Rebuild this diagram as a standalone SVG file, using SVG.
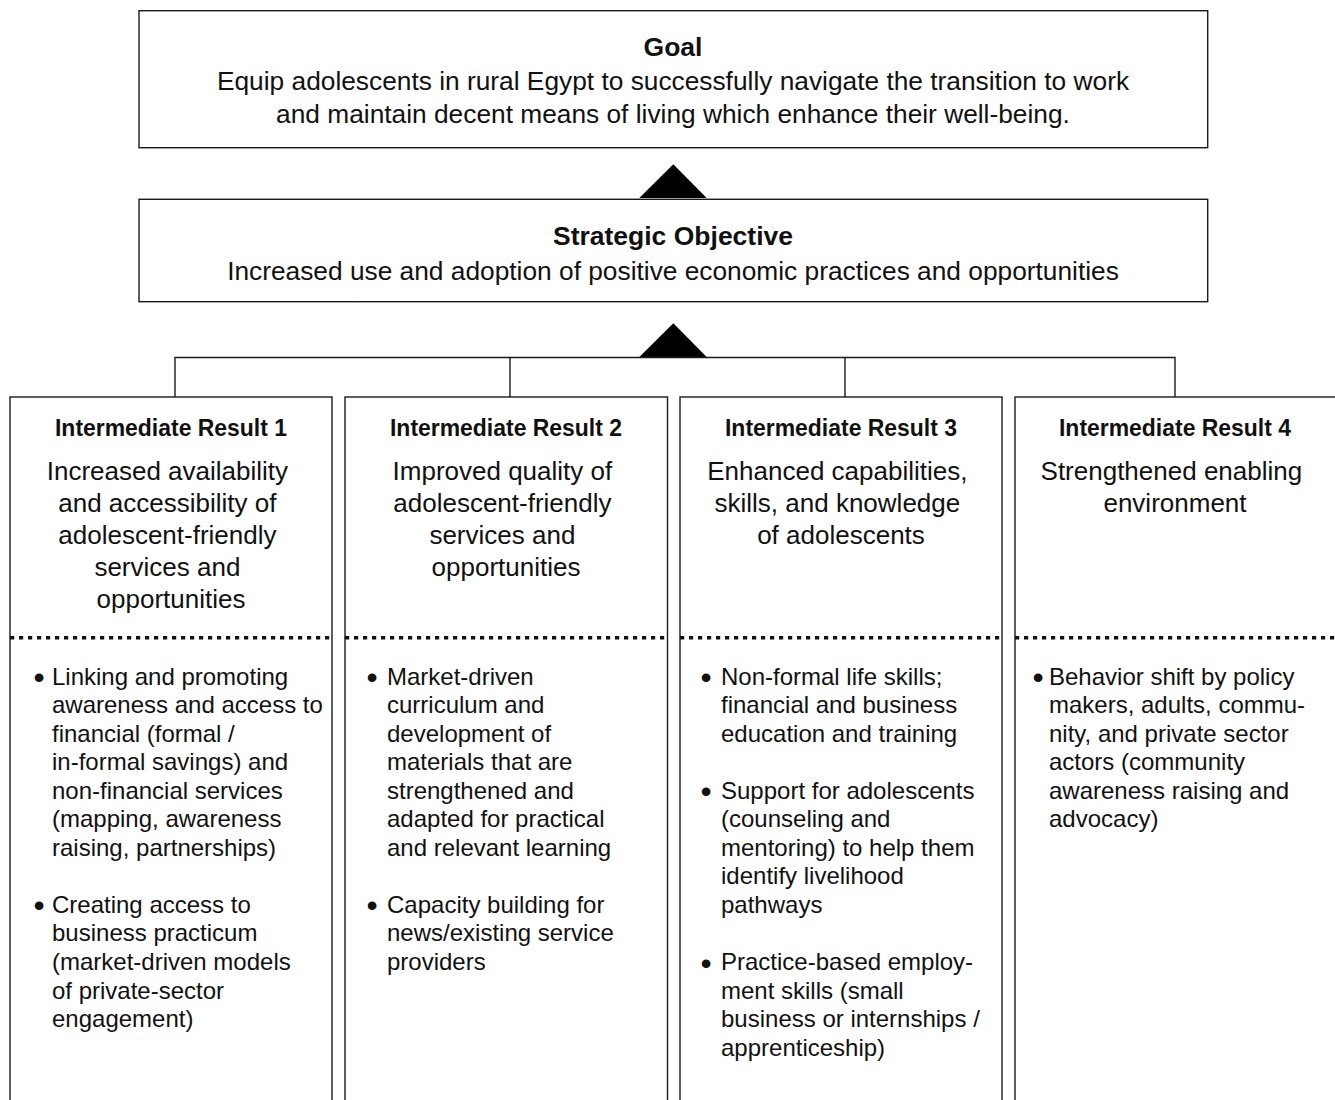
<svg xmlns="http://www.w3.org/2000/svg" width="1335" height="1100" viewBox="0 0 1335 1100">
  <style>
    .box{fill:#fff;stroke:#1a1a1a;stroke-width:1.4}
    .conn{fill:none;stroke:#1a1a1a;stroke-width:1.4}
    .head{fill:#000;stroke:none}
    .dots{stroke:#111;stroke-width:3.4;stroke-dasharray:4.2 4.8;fill:none}
    text{font-family:"Liberation Sans",Arial,sans-serif;fill:#111}
    .title{font-size:26.5px;font-weight:bold;text-anchor:middle}
    .lead{font-size:26.3px;text-anchor:middle}
    .irh{font-size:24px;font-weight:bold;text-anchor:middle}
    .irb{font-size:26px;text-anchor:middle}
    .bul{font-size:24px}
    .dot{font-size:32px;text-anchor:middle}
  </style>

  <!-- connectors: upward arrowheads and the bracket feeding the four results -->
  <g id="connectors">
    <polygon class="head" points="673.3,164.3 706.7,198 639.3,198"/>
    <polygon class="head" points="673.3,323.3 706.7,357 639.3,357"/>
    <path class="conn" d="M175 397 V357.5 H1175 V397 M510 357.5 V397 M845 357.5 V397"/>
  </g>

  <g id="goal">
    <rect class="box" x="139" y="10.7" width="1068.7" height="137"/>
    <text class="title" x="673" y="56">Goal</text>
    <text class="lead" x="673" y="90">Equip adolescents in rural Egypt to successfully navigate the transition to work</text>
    <text class="lead" x="673" y="123">and maintain decent means of living which enhance their well-being.</text>
  </g>

  <g id="strategic-objective">
    <rect class="box" x="139" y="199.3" width="1068.7" height="102.4"/>
    <text class="title" x="673" y="244.5">Strategic Objective</text>
    <text class="lead" x="673" y="279.5">Increased use and adoption of positive economic practices and opportunities</text>
  </g>

  <g id="ir1">
    <rect class="box" x="10" y="397" width="322" height="720"/>
    <line class="dots" x1="10" y1="637.7" x2="332" y2="637.7"/>
    <text class="irh" x="171" y="436" textLength="232" lengthAdjust="spacingAndGlyphs">Intermediate Result 1</text>
    <text class="irb" x="171" y="480">
      <tspan x="171">Increased availability</tspan>
      <tspan x="171" dy="32">and accessibility of</tspan>
      <tspan x="171" dy="32">adolescent-friendly</tspan>
      <tspan x="171" dy="32">services and</tspan>
      <tspan x="171" dy="32">opportunities</tspan>
    </text>
    <text class="dot" x="39" y="688">•</text>
    <text class="bul" x="52" y="684.5">
      <tspan x="52">Linking and promoting</tspan>
      <tspan x="52" dy="28.55">awareness and access to</tspan>
      <tspan x="52" dy="28.55">financial (formal /</tspan>
      <tspan x="52" dy="28.55">in-formal savings) and</tspan>
      <tspan x="52" dy="28.55">non-financial services</tspan>
      <tspan x="52" dy="28.55">(mapping, awareness</tspan>
      <tspan x="52" dy="28.55">raising, partnerships)</tspan>
    </text>
    <text class="dot" x="39" y="916.4">•</text>
    <text class="bul" x="52" y="912.9">
      <tspan x="52">Creating access to</tspan>
      <tspan x="52" dy="28.55">business practicum</tspan>
      <tspan x="52" dy="28.55">(market-driven models</tspan>
      <tspan x="52" dy="28.55">of private-sector</tspan>
      <tspan x="52" dy="28.55">engagement)</tspan>
    </text>
  </g>

  <g id="ir2">
    <rect class="box" x="345" y="397" width="322.5" height="720"/>
    <line class="dots" x1="345" y1="637.7" x2="667.5" y2="637.7"/>
    <text class="irh" x="506" y="436" textLength="232" lengthAdjust="spacingAndGlyphs">Intermediate Result 2</text>
    <text class="irb" x="506" y="480">
      <tspan x="506">Improved quality of</tspan>
      <tspan x="506" dy="32">adolescent-friendly</tspan>
      <tspan x="506" dy="32">services and</tspan>
      <tspan x="506" dy="32">opportunities</tspan>
    </text>
    <text class="dot" x="372" y="688">•</text>
    <text class="bul" x="387" y="684.5">
      <tspan x="387">Market-driven</tspan>
      <tspan x="387" dy="28.55">curriculum and</tspan>
      <tspan x="387" dy="28.55">development of</tspan>
      <tspan x="387" dy="28.55">materials that are</tspan>
      <tspan x="387" dy="28.55">strengthened and</tspan>
      <tspan x="387" dy="28.55">adapted for practical</tspan>
      <tspan x="387" dy="28.55">and relevant learning</tspan>
    </text>
    <text class="dot" x="372" y="916.4">•</text>
    <text class="bul" x="387" y="912.9">
      <tspan x="387">Capacity building for</tspan>
      <tspan x="387" dy="28.55">news/existing service</tspan>
      <tspan x="387" dy="28.55">providers</tspan>
    </text>
  </g>

  <g id="ir3">
    <rect class="box" x="680" y="397" width="322" height="720"/>
    <line class="dots" x1="680" y1="637.7" x2="1002" y2="637.7"/>
    <text class="irh" x="841" y="436" textLength="232" lengthAdjust="spacingAndGlyphs">Intermediate Result 3</text>
    <text class="irb" x="841" y="480">
      <tspan x="841">Enhanced capabilities,</tspan>
      <tspan x="841" dy="32">skills, and knowledge</tspan>
      <tspan x="841" dy="32">of adolescents</tspan>
    </text>
    <text class="dot" x="706" y="688">•</text>
    <text class="bul" x="721" y="684.5">
      <tspan x="721">Non-formal life skills;</tspan>
      <tspan x="721" dy="28.55">financial and business</tspan>
      <tspan x="721" dy="28.55">education and training</tspan>
    </text>
    <text class="dot" x="706" y="802.2">•</text>
    <text class="bul" x="721" y="798.7">
      <tspan x="721">Support for adolescents</tspan>
      <tspan x="721" dy="28.55">(counseling and</tspan>
      <tspan x="721" dy="28.55">mentoring) to help them</tspan>
      <tspan x="721" dy="28.55">identify livelihood</tspan>
      <tspan x="721" dy="28.55">pathways</tspan>
    </text>
    <text class="dot" x="706" y="973.5">•</text>
    <text class="bul" x="721" y="970">
      <tspan x="721">Practice-based employ-</tspan>
      <tspan x="721" dy="28.55">ment skills (small</tspan>
      <tspan x="721" dy="28.55">business or internships /</tspan>
      <tspan x="721" dy="28.55">apprenticeship)</tspan>
    </text>
  </g>

  <g id="ir4">
    <rect class="box" x="1015" y="397" width="322" height="720"/>
    <line class="dots" x1="1015" y1="637.7" x2="1337" y2="637.7"/>
    <text class="irh" x="1175" y="436" textLength="232" lengthAdjust="spacingAndGlyphs">Intermediate Result 4</text>
    <text class="irb" x="1175" y="480">
      <tspan x="1175">Strengthened enabling</tspan>
      <tspan x="1175" dy="32">environment</tspan>
    </text>
    <text class="dot" x="1038" y="688">•</text>
    <text class="bul" x="1049" y="684.5">
      <tspan x="1049">Behavior shift by policy</tspan>
      <tspan x="1049" dy="28.55">makers, adults, commu-</tspan>
      <tspan x="1049" dy="28.55">nity, and private sector</tspan>
      <tspan x="1049" dy="28.55">actors (community</tspan>
      <tspan x="1049" dy="28.55">awareness raising and</tspan>
      <tspan x="1049" dy="28.55">advocacy)</tspan>
    </text>
  </g>
</svg>
